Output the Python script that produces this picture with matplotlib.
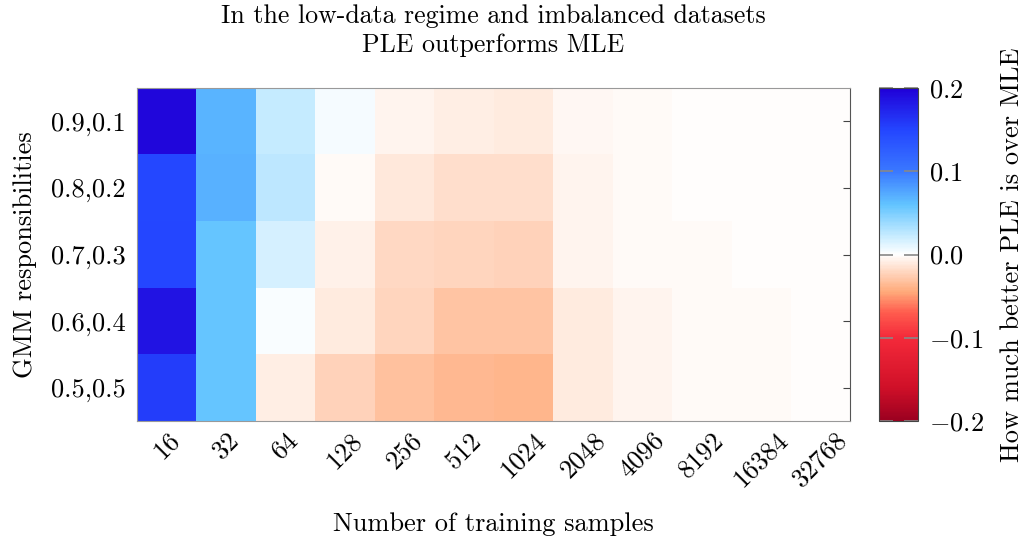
import numpy as np
import matplotlib
matplotlib.use("Agg")
import matplotlib.pyplot as plt
from matplotlib.colors import LinearSegmentedColormap
from matplotlib.ticker import FuncFormatter

plt.rcParams['font.family'] = ['cmr10', 'DejaVu Serif']
plt.rcParams['mathtext.fontset'] = 'cm'
plt.rcParams['axes.unicode_minus'] = False
plt.rcParams['font.size'] = 19

# data
n_samples = ['16', '32', '64', '128', '256', '512', '1024', '2048',
             '4096', '8192', '16384', '32768']
responsibilities = ['0.9,0.1', '0.8,0.2', '0.7,0.3', '0.6,0.4', '0.5,0.5']

row_09 = [0.195, 0.068, 0.023, 0.004, -0.006, -0.008, -0.010, -0.004, -0.002, -0.001, -0.001, -0.001]
row_08 = [0.148, 0.070, 0.025, -0.002, -0.012, -0.017, -0.017, -0.005, -0.002, -0.001, -0.001, -0.001]
row_07 = [0.150, 0.058, 0.016, -0.007, -0.019, -0.021, -0.022, -0.006, -0.003, -0.002, -0.001, -0.001]
row_06 = [0.185, 0.058, 0.002, -0.010, -0.021, -0.030, -0.030, -0.010, -0.005, -0.003, -0.002, -0.001]
row_05 = [0.155, 0.058, -0.009, -0.023, -0.032, -0.036, -0.038, -0.010, -0.005, -0.003, -0.002, -0.001]

cbar_ticks = [-0.2, -0.1, 0.0, 0.1, 0.2]

diff = np.array([row_09, row_08, row_07, row_06, row_05])

# diverging colormap red -> white -> blue
vmin, vmax = -0.2, 0.2
nodes = [(-0.2, '#9b0020'), (-0.16, '#d01028'), (-0.1, '#f42a3a'),
         (-0.07, '#ff5c4e'), (-0.045, '#ffaa7a'), (-0.02, '#ffd8c2'),
         (0.0, '#ffffff'), (0.02, '#cdeeff'), (0.06, '#62c4ff'),
         (0.1, '#3a78ff'), (0.15, '#2446ff'), (0.2, '#2000d8')]
cmap = LinearSegmentedColormap.from_list(
    'ple_mle', [((v - vmin) / (vmax - vmin), c) for v, c in nodes])

fig = plt.figure(figsize=(10.23, 5.39), dpi=100)
ax = fig.add_axes([0.1339, 0.2189, 0.697, 0.6178])
cax = fig.add_axes([0.8592, 0.2189, 0.0381, 0.6178])

im = ax.imshow(diff, cmap=cmap, vmin=vmin, vmax=vmax, aspect='auto',
               interpolation='nearest')

ax.set_xticks(np.arange(len(n_samples)))
ax.set_xticklabels(n_samples, rotation=45, ha='center', va='top')
ax.set_yticks(np.arange(len(responsibilities)))
ax.set_yticklabels(responsibilities)
ax.tick_params(axis='x', length=0, pad=5)
ax.tick_params(axis='y', which='both', direction='in', length=5,
               left=False, right=True, color='#444444', pad=8)

for side in ['left', 'top', 'bottom']:
    ax.spines[side].set_color('#999999')
ax.spines['right'].set_color('#555555')

ax.set_xlabel('Number of training samples', labelpad=15)
ax.set_ylabel('GMM responsibilities', labelpad=10)
ax.set_title('In the low-data regime and imbalanced datasets\nPLE outperforms MLE',
             pad=26, linespacing=1.3, fontsize=18.6)

cb = fig.colorbar(im, cax=cax, ticks=cbar_ticks)
cb.ax.yaxis.set_major_formatter(FuncFormatter(lambda v, p: '$%.1f$' % v))
cb.ax.tick_params(direction='in', length=10, color='#888888', width=1.2,
                  left=True, right=True, pad=8)
cb.outline.set_edgecolor('#444444')
cb.set_label('How much better PLE is over MLE', labelpad=12)

fig.savefig('out.png', dpi=100)
